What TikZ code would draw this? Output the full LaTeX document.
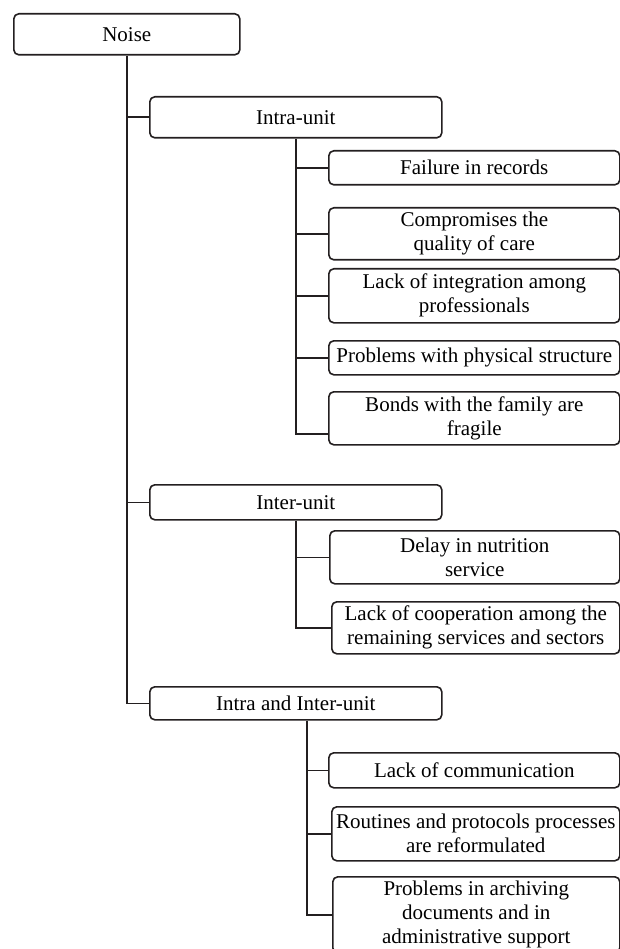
\documentclass[tikz,border=0pt]{standalone}
\usepackage{fontspec}
\setmainfont{Liberation Serif}
\usetikzlibrary{shapes, positioning}
\definecolor{ink}{HTML}{231F20}

\begin{document}
\begin{tikzpicture}[x=1pt, y=-1pt, line width=1.6pt, color=ink,
  box/.style={draw, rounded corners=5pt, align=center, inner sep=0pt, anchor=north west, text=black, font=\fontsize{21}{24}\selectfont}]

\useasboundingbox (0,0) rectangle (620,949);

\node [box, minimum width=226pt, minimum height=41pt] (noise) at (13,13) {Noise};

\node [box, minimum width=292pt, minimum height=41pt] (intra) at (149,96) {Intra-unit};
\node [box, minimum width=291pt, minimum height=34pt] (records) at (328,150) {Failure in records};
\node [box, minimum width=291pt, minimum height=52pt] (quality) at (328,207) {Compromises the\\quality of care};
\node [box, minimum width=291pt, minimum height=54pt] (integration) at (328,268) {Lack of integration among\\professionals};
\node [box, minimum width=291pt, minimum height=34pt] (structure) at (328,340) {Problems with physical structure};
\node [box, minimum width=291pt, minimum height=53pt] (family) at (328,391) {Bonds with the family are\\fragile};

\node [box, minimum width=292pt, minimum height=35pt] (inter) at (149,484) {Inter-unit};
\node [box, minimum width=290pt, minimum height=53pt] (nutrition) at (329,530) {Delay in nutrition\\service};
\node [box, minimum width=288pt, minimum height=52pt] (cooperation) at (331,601) {Lack of cooperation among the\\remaining services and sectors};

\node [box, minimum width=292pt, minimum height=33pt] (both) at (149,686) {Intra and Inter-unit};
\node [box, minimum width=291pt, minimum height=35pt] (communication) at (328,752) {Lack of communication};
\node [box, minimum width=288pt, minimum height=54pt] (routines) at (331,806) {Routines and protocols processes\\are reformulated};
\node [box, minimum width=287pt, minimum height=76pt] (archiving) at (332,876) {Problems in archiving\\documents and in\\administrative support};

\coordinate (bothstem) at ([xshift=11pt]both.south);

\draw (noise.south) |- (both.west);
\draw (noise.south |- intra.west) -- (intra.west);
\draw (noise.south |- inter.west) -- (inter.west);

\draw (intra.south) |- ([yshift=-15.5pt]family.west);
\draw (intra.south |- records.west) -- (records.west);
\draw (intra.south |- quality.west) -- (quality.west);
\draw (intra.south |- integration.west) -- (integration.west);
\draw (intra.south |- structure.west) -- (structure.west);

\draw (inter.south) |- (cooperation.west);
\draw (inter.south |- nutrition.west) -- (nutrition.west);

\draw (bothstem) |- (archiving.west);
\draw (bothstem |- communication.west) -- (communication.west);
\draw (bothstem |- routines.west) -- (routines.west);

\end{tikzpicture}
\end{document}
